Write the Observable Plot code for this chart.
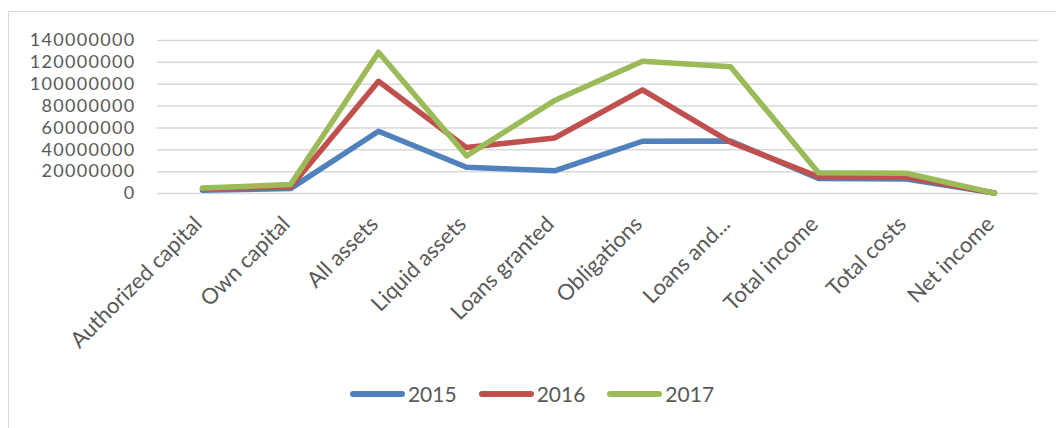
<!DOCTYPE html>
<html>
<head>
<meta charset="utf-8">
<script src="https://cdn.jsdelivr.net/npm/d3@7"></script>
<script src="https://cdn.jsdelivr.net/npm/@observablehq/plot@0.6"></script>
<style>
  html, body { margin: 0; padding: 0; background: #fff; overflow: hidden; }
  #wrap { position: relative; width: 1056px; height: 428px; overflow: hidden; font-family: Lato, "Open Sans", sans-serif; }
  #frame { position: absolute; left: 8px; top: 11px; width: 1100px; height: 500px; border: 1.5px solid #d9d9d9; box-sizing: border-box; }
  #chart { position: absolute; left: 0; top: 0; }
  #legend { position: absolute; top: 381px; left: 0; width: 1056px; display: flex; justify-content: center; gap: 22px; font-size: 21px; color: #595959; padding-left: 8px; box-sizing: border-box; }
  .item { display: flex; align-items: center; gap: 3px; }
  .swatch { width: 55px; height: 6px; border-radius: 3px; flex: none; }
</style>
</head>
<body>
<div id="wrap">
  <div id="frame"></div>
  <div id="chart"></div>
  <div id="legend"></div>
</div>
<script>
const categories = ["Authorized capital", "Own capital", "All assets", "Liquid assets", "Loans granted", "Obligations", "Loans and...", "Total income", "Total costs", "Net income"];
const years = ["2015", "2016", "2017"];
const colors = ["#4f81bd", "#c0504d", "#9bbb59"];
const v2015 = [3000000, 4500000, 57000000, 24000000, 20800000, 47800000, 48000000, 13800000, 13200000, 500000];
const v2016 = [4500000, 6000000, 102700000, 42000000, 50800000, 94800000, 47000000, 15300000, 15000000, 400000];
const v2017 = [5000000, 8200000, 129300000, 34500000, 85000000, 121000000, 116000000, 19000000, 18500000, 300000];
const yTicks = [0, 20000000, 40000000, 60000000, 80000000, 100000000, 120000000, 140000000];

const series = [v2015, v2016, v2017];
const rows = [];
years.forEach((yr, i) => categories.forEach((c, j) => rows.push({year: yr, category: c, value: series[i][j]})));

const chart = Plot.plot({
  width: 1056,
  height: 428,
  marginLeft: 157,
  marginRight: 18,
  marginTop: 40,
  marginBottom: 235,
  style: { fontFamily: "Lato, 'Open Sans', sans-serif", background: "transparent", color: "#595959" },
  x: { type: "point", domain: categories, padding: 0.5 },
  y: { domain: [0, 140000000] },
  color: { domain: years, range: colors },
  marks: [
    Plot.ruleY(yTicks, { stroke: "#d9d9d9", strokeWidth: 1.5 }),
    Plot.axisY({ ticks: yTicks, tickSize: 0, tickPadding: 22, tickFormat: d3.format("d"), fontSize: 18, fill: "#595959", label: null }),
    Plot.axisX({ tickSize: 0, tickPadding: 27, dx: -4, tickRotate: -45, fontSize: 22, fill: "#595959", label: null }),
    Plot.line(rows, { x: "category", y: "value", z: "year", stroke: "year", strokeWidth: 5.5, strokeLinejoin: "round", strokeLinecap: "round" })
  ]
});
d3.select(chart).selectAll('g[aria-label="y-axis tick label"] text').style("letter-spacing", "1.3px");
document.getElementById("chart").appendChild(chart);

const legend = document.getElementById("legend");
years.forEach((yr, i) => {
  const item = document.createElement("div");
  item.className = "item";
  const sw = document.createElement("div");
  sw.className = "swatch";
  sw.style.background = colors[i];
  const label = document.createElement("span");
  label.textContent = yr;
  item.appendChild(sw);
  item.appendChild(label);
  legend.appendChild(item);
});
</script>
</body>
</html>
